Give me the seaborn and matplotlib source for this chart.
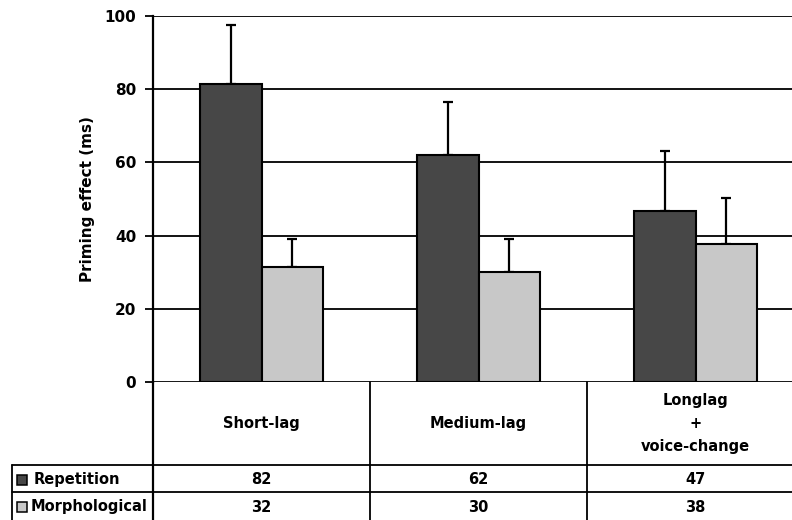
import matplotlib
matplotlib.use("Agg")
import matplotlib.pyplot as plt
import seaborn as sns
import pandas as pd
from matplotlib.lines import Line2D

# ---- data ----
categories = ["Short-lag", "Medium-lag", "Longlag\n+\nvoice-change"]
series = ["Repetition", "Morphological"]
repetition = [81.5, 62.0, 46.8]
morphological = [31.5, 30.0, 37.7]
rep_err = [16.0, 14.5, 16.3]
morph_err = [7.6, 9.0, 12.6]
rep_labels = ["82", "62", "47"]
morph_labels = ["32", "30", "38"]
yticks = [0, 20, 40, 60, 80, 100]

colors = {"Repetition": "#474747", "Morphological": "#c8c8c8"}

df = pd.DataFrame({
    "category": categories * 2,
    "series": [series[0]] * 3 + [series[1]] * 3,
    "value": repetition + morphological,
})

sns.set_theme(style="white")
plt.rcParams["font.family"] = ["DejaVu Sans"]
plt.rcParams["font.weight"] = "bold"
plt.rcParams["text.color"] = "black"
plt.rcParams["axes.labelcolor"] = "black"
plt.rcParams["ytick.color"] = "black"
plt.rcParams["ytick.labelcolor"] = "black"

W, H = 792, 520
fig = plt.figure(figsize=(W / 100, H / 100), dpi=100)
ax_left, ax_right, ax_top, ax_bottom = 153, 804, 16, 382
ax = fig.add_axes([ax_left / W, (H - ax_bottom) / H,
                   (ax_right - ax_left) / W, (ax_bottom - ax_top) / H])

# gridlines first
for t in yticks:
    ax.axhline(t, color="black", lw=2.0 if t == 0 else 1.3, zorder=1)

sns.barplot(data=df, x="category", y="value", hue="series", order=categories,
            hue_order=series, palette=colors, width=0.5714, gap=0,
            errorbar=None, edgecolor="black", linewidth=1.5, legend=False,
            ax=ax, zorder=3)

for cont, errs in zip(ax.containers, [rep_err, morph_err]):
    xs = [b.get_x() + b.get_width() / 2 for b in cont]
    hs = [b.get_height() for b in cont]
    ax.errorbar(xs, hs, yerr=[[0] * len(errs), errs], fmt="none",
                ecolor="black", elinewidth=1.6, capsize=3.5, capthick=1.6,
                zorder=2)

ax.set_xlim(-0.5, 2.5)
ax.set_ylim(0, 100)
ax.set_yticks(yticks)
ax.set_yticklabels([str(t) for t in yticks], fontsize=11, fontweight="bold",
                   color="black")
ax.set_xticks([])
ax.set_xlabel("")
ax.set_ylabel("Priming effect (ms)", fontsize=11, fontweight="bold", labelpad=7,
              color="black")
ax.tick_params(axis="y", direction="out", length=6, width=1.3, color="black",
               left=True, pad=6)
for s in ["top", "right", "bottom"]:
    ax.spines[s].set_visible(False)
ax.spines["left"].set_color("black")
ax.spines["left"].set_linewidth(1.6)

# ---- data table below ----
axh = ax_bottom - ax_top
def fy(px):  # pixel y -> axes fraction
    return -(px - ax_bottom) / axh
def fx(px):  # pixel x -> axes fraction
    return (px - ax_left) / (ax_right - ax_left)

row1, row2, row_end = 465, 492, 522
xt = ax.get_xaxis_transform()

# vertical lines
ax.add_line(Line2D([fx(153), fx(153)], [fy(382), fy(row_end)], transform=ax.transAxes,
                   color="black", lw=1.6, clip_on=False))
for b in [0.5, 1.5]:
    ax.add_line(Line2D([b, b], [fy(382), fy(row_end)], transform=xt,
                       color="black", lw=1.3, clip_on=False))
ax.add_line(Line2D([fx(12), fx(12)], [fy(row1), fy(row_end)], transform=ax.transAxes,
                   color="black", lw=1.3, clip_on=False))
for ry in [row1, row2]:
    ax.add_line(Line2D([fx(12), 1], [fy(ry), fy(ry)], transform=ax.transAxes,
                       color="black", lw=1.3, clip_on=False))

for i, c in enumerate(categories):
    ax.text(i, fy((382 + row1) / 2), c, transform=xt, ha="center", va="center",
            fontsize=10.5, fontweight="bold", linespacing=1.7, clip_on=False)
    ax.text(i, fy((row1 + row2) / 2 + 1), rep_labels[i], transform=xt, ha="center",
            va="center", fontsize=10.5, fontweight="bold", clip_on=False)
    ax.text(i, fy((row2 + 520) / 2 + 1), morph_labels[i], transform=xt, ha="center",
            va="center", fontsize=10.5, fontweight="bold", clip_on=False)

# legend keys inside the table
for name, ry, tx in [("Repetition", (row1 + row2) / 2, 34), ("Morphological", (row2 + 520) / 2, 31)]:
    ax.add_line(Line2D([fx(22)], [fy(ry + 1)], transform=ax.transAxes, marker="s",
                       markersize=7, markerfacecolor=colors[name],
                       markeredgecolor="black", markeredgewidth=1.1, clip_on=False))
    ax.text(fx(tx), fy(ry + 1), name, transform=ax.transAxes, ha="left", va="center",
            fontsize=10.5, fontweight="bold", clip_on=False)

fig.savefig("out.png", dpi=100)
